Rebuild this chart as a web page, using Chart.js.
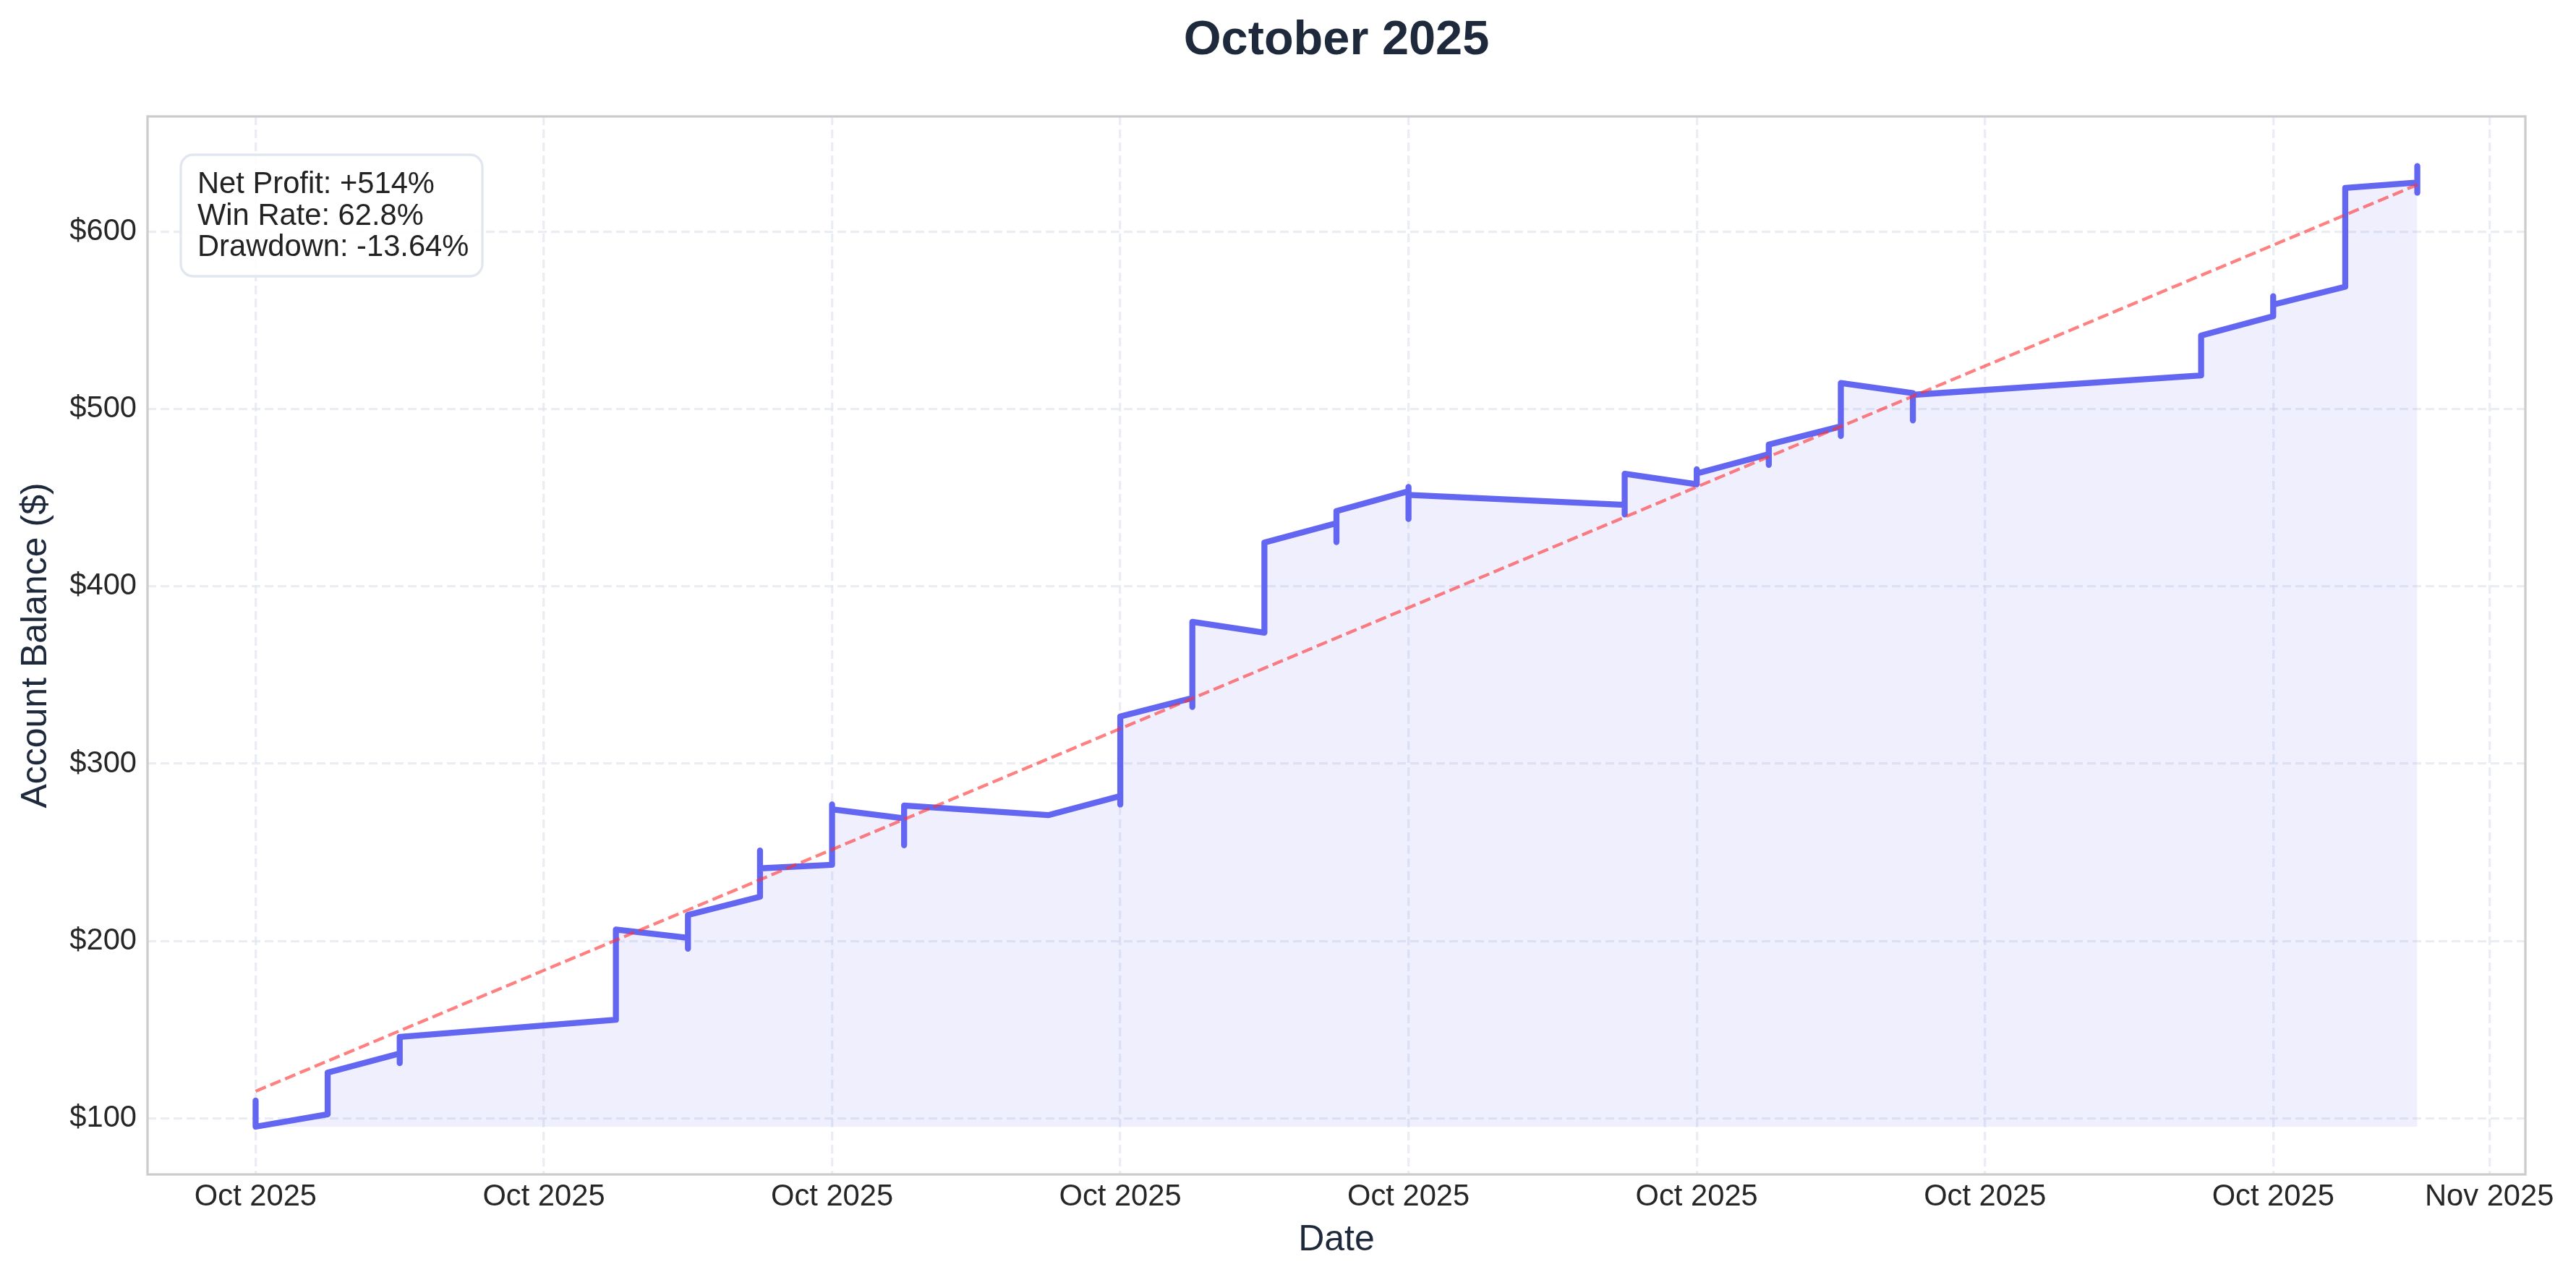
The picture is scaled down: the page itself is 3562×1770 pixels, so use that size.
<!DOCTYPE html>
<html>
<head>
<meta charset="utf-8">
<title>October 2025</title>
<script src="https://cdn.jsdelivr.net/npm/chart.js@4.4.1/dist/chart.umd.min.js"></script>
<style>
  html, body { margin: 0; padding: 0; background: #fff; }
  canvas { display: block; }
</style>
</head>
<body>
<canvas id="equity" width="3562" height="1770"></canvas>
<script>
// day of October (0 = Oct 1) for each trade, several trades per day
const tradeDays = [
    0, 0,
    1, 1,
    2, 2, 2,
    5, 5,
    6, 6, 6,
    7, 7, 7,
    8, 8, 8,
    9, 9, 9,
    11,
    12, 12, 12,
    13, 13, 13,
    14, 14,
    15, 15, 15,
    16, 16, 16, 16,
    19, 19, 19,
    20, 20, 20,
    21, 21, 21,
    22, 22, 22,
    23, 23, 23,
    27, 27,
    28, 28, 28,
    29, 29,
    30, 30, 30, 30
];
const balances = [
    110, 95.3,
    102.3, 125.8,
    136.6, 131.2, 145.9,
    155.6, 206.5,
    201.8, 195.7, 214.7,
    225, 251, 241,
    243, 277, 274.3,
    269.2, 254, 276.4,
    271,
    281.8, 277, 326.6,
    337, 332, 380,
    373.9, 424.7,
    435.6, 425, 442.4,
    453.7, 456, 438, 451.6,
    446, 440.6, 463.5,
    457.6, 466, 463.7,
    474.6, 468.5, 480,
    490.2, 484.8, 514.7,
    509, 493.6, 508,
    519, 541.4,
    552.3, 563.6, 558.9,
    569, 624.7,
    627.7, 637, 622, 627
];

// dashed trend line (start / end)
const trendDays = [0, 30];
const trendValues = [115.3, 626.5];

const xTickDays = [0, 4, 8, 12, 16, 20, 24, 28, 31];
const xTickLabels = ['Oct 2025', 'Oct 2025', 'Oct 2025', 'Oct 2025', 'Oct 2025',
                     'Oct 2025', 'Oct 2025', 'Oct 2025', 'Nov 2025'];
const yTickValues = [100, 200, 300, 400, 500, 600];

const statsLines = ['Net Profit: +514%', 'Win Rate: 62.8%', 'Drawdown: -13.64%'];

const FONT = "'Liberation Sans', Arial, Helvetica, sans-serif";
const fillBase = Math.min(...balances);

// title above the plot area
const titlePlugin = {
    id: 'plotTitle',
    afterDraw(chart) {
        const { ctx, chartArea } = chart;
        ctx.save();
        ctx.font = `bold 66.7px ${FONT}`;
        ctx.fillStyle = '#1e293b';
        ctx.textAlign = 'center';
        ctx.textBaseline = 'middle';
        ctx.fillText('October 2025', (chartArea.left + chartArea.right) / 2, 57);
        ctx.restore();
    }
};

// grey box round the axes
const framePlugin = {
    id: 'frame',
    afterDatasetsDraw(chart) {
        const { ctx, chartArea } = chart;
        ctx.save();
        ctx.strokeStyle = '#cccccc';
        ctx.lineWidth = 3.3;
        ctx.strokeRect(chartArea.left, chartArea.top,
            chartArea.right - chartArea.left, chartArea.bottom - chartArea.top);
        ctx.restore();
    }
};

// stats text box, top left
const statsPlugin = {
    id: 'stats',
    afterDraw(chart) {
        const { ctx, chartArea } = chart;
        const bx = chartArea.left + 46, by = chartArea.top + 53;
        const bw = 417, bh = 168, r = 17;
        ctx.save();
        ctx.beginPath();
        ctx.roundRect(bx, by, bw, bh, r);
        ctx.fillStyle = 'rgba(255,255,255,0.9)';
        ctx.fill();
        ctx.lineWidth = 3.3;
        ctx.strokeStyle = '#e1e6ef';
        ctx.stroke();
        ctx.font = `41.7px ${FONT}`;
        ctx.fillStyle = '#222222';
        ctx.textAlign = 'left';
        ctx.textBaseline = 'alphabetic';
        statsLines.forEach((line, i) => {
            ctx.fillText(line, bx + 23, by + 53 + i * 43.7);
        });
        ctx.restore();
    }
};

const ctx = document.getElementById('equity').getContext('2d');
new Chart(ctx, {
    type: 'line',
    data: {
        datasets: [{
            label: 'Trend',
            data: trendDays.map((d, i) => ({ x: d, y: trendValues[i] })),
            borderColor: 'rgba(255, 50, 50, 0.62)',
            borderWidth: 4.3,
            borderDash: [15.4, 6.7],
            pointRadius: 0,
            fill: false,
            order: 1
        }, {
            label: 'Account Balance',
            data: tradeDays.map((d, i) => ({ x: d, y: balances[i] })),
            borderColor: 'rgb(99, 102, 241)',
            borderWidth: 8.3,
            borderCapStyle: 'round',
            borderJoinStyle: 'round',
            backgroundColor: 'rgba(99, 102, 241, 0.1)',
            fill: { value: fillBase },
            pointRadius: 0,
            tension: 0,
            order: 2
        }]
    },
    options: {
        responsive: false,
        animation: false,
        devicePixelRatio: 1,
        layout: { padding: { left: 0, right: 70, top: 161, bottom: 0 } },
        plugins: {
            legend: { display: false },
            tooltip: { enabled: false },
            title: { display: false }
        },
        scales: {
            x: {
                type: 'linear',
                min: -1.5,
                max: 31.5,
                afterBuildTicks: axis => { axis.ticks = xTickDays.map(v => ({ value: v })); },
                afterFit: axis => { axis.height = 146; axis.paddingLeft = 0; axis.paddingRight = 0; },
                ticks: {
                    padding: 6,
                    maxRotation: 0,
                    autoSkip: false,
                    color: '#262626',
                    font: { family: FONT, size: 41.7 },
                    callback: v => xTickLabels[xTickDays.indexOf(v)]
                },
                grid: { color: 'rgba(220,226,236,0.6)', lineWidth: 3.3, drawTicks: false },
                border: { display: false, dash: [12, 6] },
                title: {
                    display: true,
                    text: 'Date',
                    color: '#1e293b',
                    font: { family: FONT, size: 50 },
                    padding: { top: 0, bottom: 25 }
                }
            },
            y: {
                type: 'linear',
                min: 68.4,
                max: 665,
                afterBuildTicks: axis => { axis.ticks = yTickValues.map(v => ({ value: v })); },
                afterFit: axis => { axis.width = 204; axis.paddingTop = 0; axis.paddingBottom = 0; },
                ticks: {
                    padding: 15,
                    color: '#262626',
                    font: { family: FONT, size: 41.7 },
                    callback: v => '$' + v
                },
                grid: { color: 'rgba(220,226,236,0.6)', lineWidth: 3.3, drawTicks: false },
                border: { display: false, dash: [12, 6] },
                title: {
                    display: true,
                    text: 'Account Balance ($)',
                    color: '#1e293b',
                    font: { family: FONT, size: 50 },
                    padding: { top: 20, bottom: 0 }
                }
            }
        }
    },
    plugins: [titlePlugin, framePlugin, statsPlugin]
});
</script>
</body>
</html>
